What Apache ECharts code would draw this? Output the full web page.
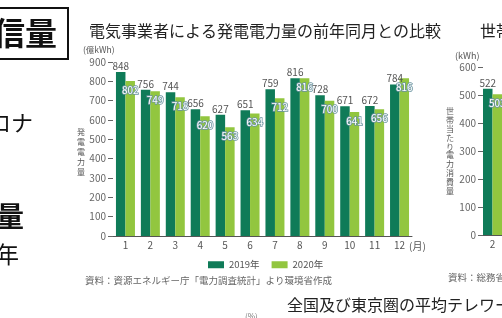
<!DOCTYPE html>
<html>
<head>
<meta charset="utf-8">
<script src="https://cdn.jsdelivr.net/npm/echarts@6/dist/echarts.min.js"></script>
<style>
  html, body { margin: 0; padding: 0; background: #fff; }
  #chart { width: 502px; height: 318px; }
</style>
</head>
<body>
<div id="chart"></div>
<script>
const months = ["1", "2", "3", "4", "5", "6", "7", "8", "9", "10", "11", "12"];
const gen2019 = [848, 756, 744, 656, 627, 651, 759, 816, 728, 671, 672, 784];
const gen2020 = [802, 749, 718, 620, 563, 634, 712, 816, 700, 641, 656, 816];
const seriesNames = ["2019年", "2020年"];

const houseMonths = ["2"];
const house2019 = [522];
const house2020 = [503];

const FONT = "'Noto Sans CJK JP', 'Noto Sans', sans-serif";
const DARK = "#0f7b58";
const LIGHT = "#92c63f";

const chart = echarts.init(document.getElementById("chart"), null, { renderer: "canvas" });

function yAxisCfg(gridIndex, max) {
  return {
    type: "value",
    gridIndex,
    min: 0,
    max,
    interval: 100,
    axisLine: { show: false },
    axisTick: { show: true, length: 5, lineStyle: { color: "#666" } },
    axisLabel: { color: "#666", fontSize: 10, margin: 7, fontFamily: FONT },
    splitLine: { show: false },
  };
}

function xAxisCfg(gridIndex, data) {
  return {
    type: "category",
    gridIndex,
    data,
    axisLine: { lineStyle: { color: "#555" } },
    axisTick: { show: false },
    axisLabel: { color: "#555", fontSize: 10, margin: 4, fontFamily: FONT },
  };
}

const darkLabel = { show: true, position: "top", distance: 1, color: "#555", fontSize: 10, fontFamily: FONT };
const lightLabel = {
  show: true, position: "insideTop", distance: 4, color: "#fff", fontSize: 10, fontFamily: FONT,
  textBorderColor: "#6a93a0", textBorderWidth: 1.5,
};

function txt(x, y, text, size, opts) {
  return {
    type: "text", x, y, silent: true,
    style: Object.assign({ text, fontSize: size, fontFamily: FONT, fill: "#222", verticalAlign: "middle" }, opts || {}),
  };
}

chart.setOption({
  backgroundColor: "#fff",
  animation: false,
  grid: [
    { left: 113, right: 90, top: 62, bottom: 82 },
    { left: 483, width: 23, top: 67, bottom: 83 },
  ],
  xAxis: [xAxisCfg(0, months), xAxisCfg(1, houseMonths)],
  yAxis: [yAxisCfg(0, 900), yAxisCfg(1, 600)],
  legend: {
    data: seriesNames,
    left: 203, top: 255,
    icon: "rect", itemWidth: 16, itemHeight: 7, itemGap: 12,
    textStyle: { color: "#555", fontSize: 9.5, fontFamily: FONT },
  },
  series: [
    { name: seriesNames[0], type: "bar", xAxisIndex: 0, yAxisIndex: 0, data: gen2019,
      barWidth: 9.5, barGap: "0%", itemStyle: { color: DARK }, label: darkLabel },
    { name: seriesNames[1], type: "bar", xAxisIndex: 0, yAxisIndex: 0, data: gen2020,
      barWidth: 9.5, barGap: "0%", itemStyle: { color: LIGHT }, label: lightLabel },
    { name: "世帯2019", type: "bar", xAxisIndex: 1, yAxisIndex: 1, data: house2019,
      barWidth: 10, barGap: "0%", itemStyle: { color: DARK }, label: darkLabel },
    { name: "世帯2020", type: "bar", xAxisIndex: 1, yAxisIndex: 1, data: house2020,
      barWidth: 10, barGap: "0%", itemStyle: { color: LIGHT }, label: lightLabel },
  ],
  graphic: [
    // left slide fragments
    { type: "rect", silent: true, shape: { x: -10, y: 8, width: 78, height: 51 },
      style: { fill: "none", stroke: "#111", lineWidth: 2 } },
    txt(57, 33, "通信量", 32, { align: "right", fontWeight: "bold", fill: "#111" }),
    txt(33, 123, "コロナ", 22, { align: "right", fill: "#111" }),
    txt(24, 216, "電力量", 28, { align: "right", fontWeight: "bold", fill: "#111" }),
    txt(19, 254, "前年", 23, { align: "right", fill: "#111" }),
    // main chart texts
    txt(89, 31, "電気事業者による発電電力量の前年同月との比較", 16),
    txt(83, 50, "(億kWh)", 8.5, { fill: "#555" }),
    txt(77, 152, "発\n電\n電\n力\n量", 8, { fill: "#555", align: "left", lineHeight: 10 }),
    txt(409, 246, "(月)", 10, { fill: "#555" }),
    txt(85, 280, "資料：資源エネルギー庁「電力調査統計」より環境省作成", 9.5, { fill: "#666" }),
    // right chart fragment
    txt(480, 31, "世帯当たり電力消費量", 16),
    txt(455, 56, "(kWh)", 9, { fill: "#555" }),
    txt(446, 151, "世\n帯\n当\nた\nり\n電\n力\n消\n費\n量", 8, { fill: "#555", lineHeight: 8.8 }),
    txt(448, 277, "資料：総務省", 9.5, { fill: "#666" }),
    // bottom fragment
    txt(287, 305, "全国及び東京圏の平均テレワーク実施率", 16),
    txt(245, 316, "(%)", 8, { fill: "#777" }),
  ],
});
</script>
</body>
</html>
